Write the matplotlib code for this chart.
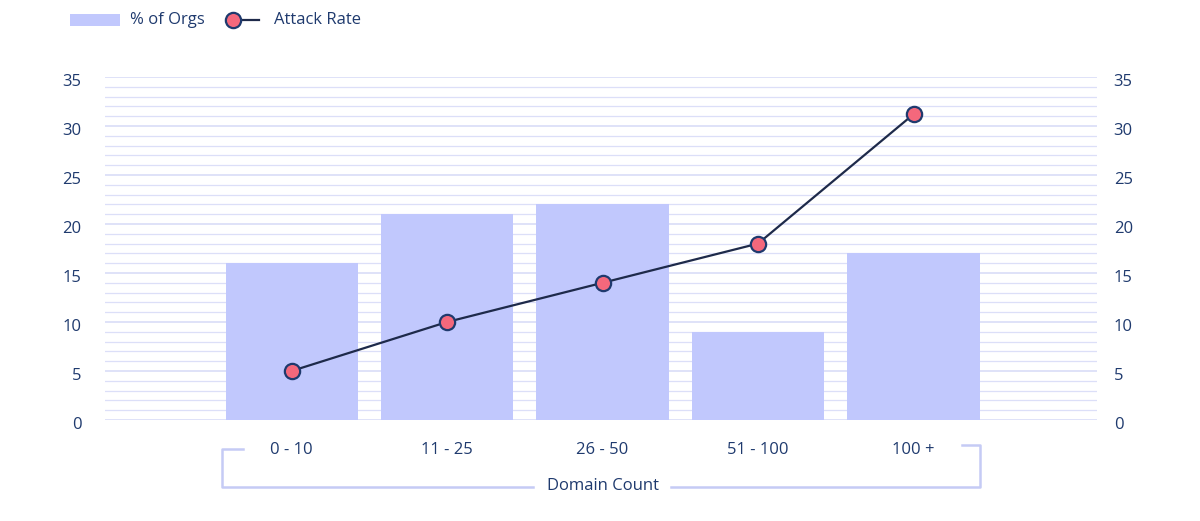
import numpy as np
import matplotlib
matplotlib.use('Agg')
from matplotlib import pyplot as plt
from matplotlib.lines import Line2D
from matplotlib.patches import Rectangle
from matplotlib.transforms import blended_transform_factory, ScaledTranslation

categories   = ['0 - 10', '11 - 25', '26 - 50', '51 - 100', '100 +']
pct_orgs     = [16, 21, 22, 9, 17]          # bars
attack_rate  = [5, 10, 14, 18, 31.2]        # line
y_ticks      = [0, 5, 10, 15, 20, 25, 30, 35]

bar_color    = '#c1c8fd'
grid_color   = '#dcdff8'
text_color   = '#1f3a6e'
line_color   = '#1e2a4a'
marker_face  = '#f4687c'
bracket_col  = '#c5cbf5'

plt.rcParams['font.family'] = ['Open Sans', 'DejaVu Sans']

fig = plt.figure(figsize=(12, 5.21), dpi=100)
ax = fig.add_axes([105/1200, 1-420/521, (1097-105)/1200, (420-77)/521])

x = np.arange(len(categories))
ax.set_xlim(-1.2, 5.18)
ax.set_ylim(0, 35)

# grid lines every unit, the 5s a bit stronger
for v in range(0, 36):
    lw = 1.3 if v % 5 == 0 else 0.9
    ax.axhline(v, color=grid_color, lw=lw, zorder=0)

ax.bar(x, pct_orgs, width=0.85, color=bar_color, zorder=2)
ax.plot(x, attack_rate, color=line_color, lw=1.6, zorder=3,
        marker='o', markersize=11, markerfacecolor=marker_face,
        markeredgecolor=text_color, markeredgewidth=1.6)

# right hand labels on a twin so they get their own padding
ax2 = ax.twinx()
ax2.set_ylim(ax.get_ylim())
for a in (ax, ax2):
    for s in a.spines.values():
        s.set_visible(False)
    a.set_yticks(y_ticks)
ax.tick_params(axis='y', length=0, pad=17, labelsize=12, labelcolor=text_color)
ax2.tick_params(axis='y', length=0, pad=12, labelsize=12, labelcolor=text_color)
down = ScaledTranslation(0, -3/100, fig.dpi_scale_trans)
for lab in ax.get_yticklabels() + ax2.get_yticklabels():
    lab.set_transform(lab.get_transform() + down)

ax.set_xticks(x)
ax.set_xticklabels(categories)
ax.tick_params(axis='x', length=0, pad=16, labelsize=12, labelcolor=text_color)

# bracket under the categories
tr = blended_transform_factory(ax.transData, fig.transFigure)
def fy(py):
    return 1 - py/521
bl, br = -0.45, 4.43
ax.add_line(Line2D([bl + 0.14, bl, bl, 1.55], [fy(449), fy(449), fy(487), fy(487)],
                   transform=tr, color=bracket_col, lw=1.8, clip_on=False))
ax.add_line(Line2D([2.44, br, br, br - 0.12], [fy(487), fy(487), fy(445), fy(445)],
                   transform=tr, color=bracket_col, lw=1.8, clip_on=False))
ax.text(2, fy(486), 'Domain Count', transform=tr, ha='center', va='center',
        fontsize=12, color=text_color)

# legend drawn in figure pixels
ft = fig.transFigure
fig.add_artist(Rectangle((70/1200, fy(26)), 50/1200, 12/521, transform=ft,
                         color=bar_color, lw=0))
fig.text(130/1200, fy(20), '% of Orgs', ha='left', va='center', fontsize=12,
         color=text_color)
fig.add_artist(Line2D([233/1200, 259/1200], [fy(20), fy(20)], transform=ft,
                      color=line_color, lw=1.6))
fig.add_artist(Line2D([233/1200], [fy(20)], transform=ft, marker='o',
                      markersize=11, markerfacecolor=marker_face,
                      markeredgecolor=text_color, markeredgewidth=1.6, lw=0))
fig.text(274/1200, fy(20), 'Attack Rate', ha='left', va='center', fontsize=12,
         color=text_color)

fig.savefig('out.png', dpi=100, facecolor='white')
